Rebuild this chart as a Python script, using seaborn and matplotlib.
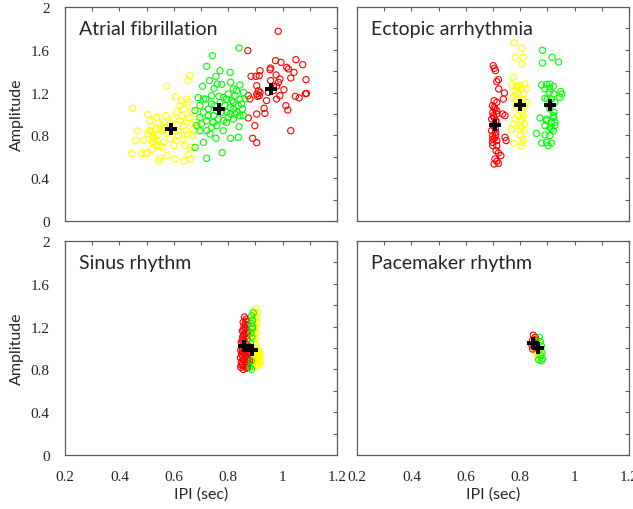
import matplotlib
matplotlib.use("Agg")
import matplotlib.pyplot as plt
import numpy as np
import pandas as pd
import seaborn as sns

sns.set_style("white")
plt.rcParams['font.family'] = ['Lato', 'DejaVu Sans']

# ---------------- data ----------------
panel_titles = ["Atrial fibrillation", "Ectopic arrhythmia", "Sinus rhythm", "Pacemaker rhythm"]
class_order = ["yellow", "red", "green"]
class_colors = {"yellow": "#ffff00", "red": "#ff0000", "green": "#00ff00"}

x_ticks = [0.2, 0.3, 0.4, 0.5, 0.6, 0.7, 0.8, 0.9, 1.0, 1.1, 1.2]
x_tick_labels = ["0.2", "", "0.4", "", "0.6", "", "0.8", "", "1", "", "1.2"]
y_ticks = [0, 0.2, 0.4, 0.6, 0.8, 1.0, 1.2, 1.4, 1.6, 1.8, 2.0]
y_tick_labels = ["0", "", "0.4", "", "0.8", "", "1.2", "", "1.6", "", "2"]

# Atrial fibrillation
af_yellow_x = [0.449, 0.504, 0.466, 0.445, 0.481, 0.498, 0.503, 0.460, 0.490, 0.513, 0.510, 0.519, 0.520, 0.525,
               0.537, 0.546, 0.552, 0.539, 0.549, 0.544, 0.548, 0.576, 0.574, 0.607, 0.653, 0.660, 0.647, 0.623,
               0.610, 0.598, 0.571, 0.586, 0.601, 0.610, 0.562, 0.574, 0.604, 0.637, 0.662, 0.653, 0.666, 0.652,
               0.672, 0.678, 0.647, 0.635, 0.666, 0.653, 0.629, 0.613, 0.569, 0.562, 0.525, 0.506, 0.517, 0.535,
               0.562, 0.617, 0.633, 0.641, 0.537, 0.522, 0.637, 0.660, 0.623, 0.645, 0.669, 0.586, 0.598, 0.629,
               0.580, 0.615, 0.655, 0.690, 0.530, 0.560]
af_yellow_y = [1.053, 0.997, 0.841, 0.632, 0.632, 0.626, 0.640, 0.751, 0.757, 0.938, 0.844, 0.829, 0.741, 0.729,
               0.969, 0.916, 0.866, 0.798, 0.704, 0.561, 0.586, 0.611, 1.259, 1.162, 1.312, 1.358, 1.140, 1.078,
               1.016, 0.953, 0.985, 0.766, 0.704, 0.751, 0.735, 0.813, 0.579, 0.561, 0.579, 0.620, 0.688, 0.813,
               0.860, 0.922, 0.922, 0.891, 1.031, 1.109, 0.985, 0.844, 0.875, 0.844, 0.798, 0.813, 0.885, 0.860,
               0.922, 0.798, 0.766, 0.704, 0.704, 0.673, 1.047, 0.969, 0.938, 0.844, 0.798, 0.907, 0.844, 1.125,
               0.830, 0.900, 0.960, 0.880, 0.770, 0.690]
af_green_x = [0.840, 0.742, 0.721, 0.770, 0.807, 0.755, 0.731, 0.706, 0.748, 0.760, 0.776, 0.809, 0.843, 0.819,
              0.831, 0.856, 0.862, 0.843, 0.825, 0.800, 0.782, 0.766, 0.739, 0.717, 0.690, 0.678, 0.696, 0.709,
              0.727, 0.745, 0.758, 0.788, 0.807, 0.819, 0.837, 0.853, 0.856, 0.843, 0.825, 0.800, 0.782, 0.764,
              0.745, 0.721, 0.702, 0.684, 0.696, 0.721, 0.733, 0.709, 0.678, 0.755, 0.782, 0.809, 0.837, 0.840,
              0.778, 0.721, 0.696, 0.727, 0.794, 0.813, 0.770, 0.739, 0.794, 0.819, 0.831, 0.807, 0.776, 0.751,
              0.709, 0.758, 0.739, 0.794, 0.819, 0.849]
af_green_y = [1.617, 1.545, 1.445, 1.405, 1.389, 1.352, 1.312, 1.259, 1.240, 1.280, 1.277, 1.296, 1.271, 1.234,
              1.218, 1.202, 1.140, 1.140, 1.171, 1.187, 1.156, 1.165, 1.171, 1.140, 1.153, 1.031, 1.078, 1.016,
              1.047, 0.985, 1.031, 1.078, 1.062, 1.047, 1.078, 1.047, 0.985, 0.985, 1.000, 0.969, 0.938, 0.953,
              0.922, 0.938, 0.907, 0.891, 0.844, 0.844, 0.813, 0.735, 0.688, 0.773, 0.844, 0.773, 0.782, 0.882,
              0.639, 0.586, 0.969, 0.985, 1.016, 1.125, 1.109, 1.094, 1.140, 1.109, 1.016, 1.000, 1.016, 1.078,
              1.140, 0.891, 0.875, 0.922, 0.953, 1.094]
af_red_x = [0.984, 0.872, 0.974, 0.994, 1.049, 1.074, 1.015, 1.042, 1.021, 0.917, 0.884, 0.902, 0.914, 0.956,
            0.954, 0.976, 0.990, 1.030, 1.086, 0.956, 0.985, 0.905, 0.911, 0.917, 0.905, 0.907, 0.948, 0.966,
            0.990, 1.005, 1.047, 1.061, 1.084, 1.088, 0.978, 0.966, 0.874, 0.880, 0.941, 0.932, 0.905, 0.935,
            0.874, 1.012, 1.019, 0.898, 1.030, 0.890, 0.905, 0.914, 0.978]
af_red_y = [1.773, 1.592, 1.499, 1.483, 1.508, 1.461, 1.436, 1.389, 1.421, 1.405, 1.352, 1.352, 1.358, 1.430,
            1.414, 1.365, 1.327, 1.337, 1.321, 1.312, 1.296, 1.265, 1.218, 1.202, 1.187, 1.165, 1.202, 1.218,
            1.171, 1.227, 1.165, 1.150, 1.190, 1.193, 1.259, 1.259, 1.171, 1.140, 1.125, 1.053, 1.000, 1.006,
            0.963, 1.078, 1.037, 0.891, 0.844, 0.773, 0.732, 1.171, 1.140]
af_center_x = [0.590, 0.765, 0.958]
af_center_y = [0.860, 1.047, 1.234]

# Ectopic arrhythmia
ea_red_x = [0.701, 0.705, 0.709, 0.720, 0.714, 0.721, 0.742, 0.738, 0.704, 0.714, 0.698, 0.707, 0.699, 0.714,
            0.704, 0.695, 0.710, 0.736, 0.744, 0.701, 0.695, 0.710, 0.699, 0.705, 0.714, 0.698, 0.744, 0.748,
            0.714, 0.711, 0.720, 0.729, 0.707, 0.714, 0.720, 0.704, 0.699, 0.709, 0.701, 0.714, 0.699, 0.710,
            0.704, 0.711]
ea_red_y = [1.452, 1.427, 1.405, 1.321, 1.302, 1.234, 1.196, 1.140, 1.125, 1.109, 1.078, 1.047, 1.016, 1.000,
            0.969, 0.953, 0.938, 1.000, 0.985, 0.891, 0.844, 0.829, 0.798, 0.773, 0.751, 0.735, 0.782, 0.751,
            0.704, 0.657, 0.636, 0.611, 0.579, 0.558, 0.539, 0.533, 0.704, 0.860, 0.985, 1.031, 0.766, 0.798,
            1.062, 0.922]
ea_yellow_x = [0.778, 0.805, 0.782, 0.811, 0.805, 0.774, 0.768, 0.787, 0.799, 0.817, 0.824, 0.781, 0.793, 0.811,
               0.774, 0.801, 0.824, 0.787, 0.817, 0.805, 0.811, 0.793, 0.781, 0.805, 0.817, 0.774, 0.768, 0.799,
               0.801, 0.811, 0.809, 0.777, 0.805, 0.787, 0.811, 0.805, 0.793, 0.811, 0.801, 0.814]
ea_yellow_y = [1.664, 1.614, 1.530, 1.530, 1.467, 1.343, 1.271, 1.259, 1.271, 1.280, 1.240, 1.218, 1.202, 1.187,
               1.156, 1.140, 1.109, 1.078, 1.072, 1.031, 1.000, 0.985, 0.953, 0.938, 0.907, 0.907, 0.854, 0.860,
               0.798, 0.766, 0.735, 0.726, 0.704, 1.140, 1.140, 1.234, 1.249, 0.969, 0.891, 0.844]
ea_green_x = [0.882, 0.917, 0.941, 0.882, 0.879, 0.897, 0.909, 0.922, 0.891, 0.907, 0.924, 0.949, 0.953, 0.946,
              0.891, 0.899, 0.915, 0.928, 0.909, 0.924, 0.922, 0.873, 0.897, 0.915, 0.891, 0.909, 0.928, 0.922,
              0.860, 0.891, 0.909, 0.879, 0.897, 0.915, 0.903, 0.897, 0.928, 0.909, 0.924, 0.915]
ea_green_y = [1.595, 1.530, 1.486, 1.477, 1.271, 1.277, 1.280, 1.259, 1.234, 1.202, 1.187, 1.209, 1.187, 1.156,
              1.147, 1.140, 1.140, 1.109, 1.047, 1.016, 0.985, 0.963, 0.938, 0.922, 0.891, 0.875, 0.922, 0.844,
              0.819, 0.804, 0.798, 0.729, 0.735, 0.729, 0.704, 0.953, 0.891, 1.240, 0.969, 0.860]
ea_center_x = [0.707, 0.800, 0.910]
ea_center_y = [0.897, 1.080, 1.080]

# Sinus rhythm
sr_red_x = [0.860, 0.866, 0.855, 0.870, 0.858, 0.864, 0.852, 0.872, 0.860, 0.866, 0.853, 0.870, 0.858, 0.848,
            0.864, 0.874, 0.852, 0.860, 0.846, 0.868, 0.856, 0.876, 0.849, 0.862, 0.845, 0.870, 0.855, 0.878,
            0.848, 0.864, 0.852, 0.872, 0.858, 0.846, 0.866, 0.855, 0.862, 0.857, 0.862, 0.850, 0.868, 0.873,
            0.856, 0.866, 0.851, 0.861, 0.869, 0.854, 0.863, 0.848, 0.871, 0.857, 0.865, 0.853]
sr_red_y = [1.29, 1.27, 1.24, 1.22, 1.20, 1.18, 1.16, 1.15, 1.13, 1.11, 1.10, 1.08, 1.06, 1.05,
            1.04, 1.02, 1.01, 1.00, 0.98, 0.97, 0.96, 0.95, 0.94, 0.93, 0.91, 0.90, 0.89, 0.88,
            0.87, 0.86, 0.85, 0.84, 0.83, 0.82, 0.81, 0.80, 0.95, 1.08, 1.22, 0.96, 0.92, 0.86,
            1.12, 1.14, 1.07, 1.03, 0.99, 0.92, 0.90, 0.84, 0.82, 1.17, 1.25, 0.99]
sr_yellow_x = [0.902, 0.896, 0.908, 0.893, 0.904, 0.898, 0.906, 0.894, 0.902, 0.897, 0.905, 0.893, 0.900, 0.896,
               0.903, 0.890, 0.908, 0.898, 0.912, 0.885, 0.904, 0.915, 0.893, 0.908, 0.918, 0.885, 0.898, 0.912,
               0.890, 0.905, 0.918, 0.882, 0.896, 0.910, 0.888, 0.903, 0.915, 0.880, 0.895,
               0.900, 0.910, 0.892, 0.906, 0.914, 0.888, 0.902]
sr_yellow_y = [1.37, 1.35, 1.33, 1.31, 1.29, 1.27, 1.24, 1.22, 1.20, 1.17, 1.14, 1.12, 1.09, 1.06,
               1.03, 1.01, 0.99, 0.97, 0.96, 0.95, 0.94, 0.93, 0.92, 0.91, 0.90, 0.90, 0.89, 0.88,
               0.87, 0.86, 0.86, 0.85, 0.84, 0.84, 0.83, 0.83, 0.95, 0.97, 1.00,
               0.93, 0.92, 0.86, 0.88, 0.87, 0.91, 0.96]
sr_green_x = [0.892, 0.886, 0.890, 0.884, 0.888, 0.883, 0.887, 0.882, 0.885, 0.880, 0.886, 0.890]
sr_green_y = [1.33, 1.30, 1.26, 1.23, 1.18, 1.14, 1.10, 1.04, 0.88, 0.82, 0.80, 1.20]
sr_center_x = [0.859, 0.886]
sr_center_y = [1.015, 0.985]

# Pacemaker rhythm
pm_red_x = [0.848, 0.855, 0.845, 0.852, 0.843, 0.850, 0.846, 0.856]
pm_red_y = [1.12, 1.10, 1.07, 1.05, 1.03, 1.01, 0.99, 1.08]
pm_yellow_x = [0.858, 0.865, 0.856, 0.868, 0.860, 0.870, 0.862, 0.872, 0.865, 0.858, 0.866, 0.862, 0.868]
pm_yellow_y = [1.09, 1.06, 1.03, 1.01, 0.99, 0.97, 0.95, 0.93, 0.91, 0.97, 1.04, 1.00, 0.95]
pm_green_x = [0.870, 0.874, 0.878, 0.872, 0.880, 0.876, 0.882, 0.878, 0.868]
pm_green_y = [1.10, 1.06, 1.02, 0.99, 0.96, 0.93, 0.90, 0.88, 0.89]
pm_center_x = [0.848, 0.864]
pm_center_y = [1.047, 1.000]

panels = [
    ({"yellow": (af_yellow_x, af_yellow_y), "red": (af_red_x, af_red_y), "green": (af_green_x, af_green_y)},
     (af_center_x, af_center_y)),
    ({"yellow": (ea_yellow_x, ea_yellow_y), "red": (ea_red_x, ea_red_y), "green": (ea_green_x, ea_green_y)},
     (ea_center_x, ea_center_y)),
    ({"yellow": (sr_yellow_x, sr_yellow_y), "red": (sr_red_x, sr_red_y), "green": (sr_green_x, sr_green_y)},
     (sr_center_x, sr_center_y)),
    ({"yellow": (pm_yellow_x, pm_yellow_y), "red": (pm_red_x, pm_red_y), "green": (pm_green_x, pm_green_y)},
     (pm_center_x, pm_center_y)),
]

# ---------------- figure ----------------
fig = plt.figure(figsize=(6.33, 5.10), dpi=100)
W, H = 633.0, 510.0
boxes = [(65, 8), (357, 8), (65, 242), (357, 242)]
aw, ah = 272.0, 214.0
spine_col = "#5a5a5a"
tick_font = ["Liberation Serif", "DejaVu Serif"]

for i, ((groups, centers), title) in enumerate(zip(panels, panel_titles)):
    lx, ty = boxes[i]
    ax = fig.add_axes([lx / W, 1 - (ty + ah) / H, aw / W, ah / H])
    frames = []
    for cls in class_order:
        gx, gy = groups[cls]
        frames.append(pd.DataFrame({"x": gx, "y": gy, "cls": cls}))
    df = pd.concat(frames, ignore_index=True)
    sns.scatterplot(data=df, x="x", y="y", hue="cls", palette=class_colors, hue_order=class_order,
                    s=20, marker="o", legend=False, ax=ax, linewidth=0.8)
    coll = ax.collections[-1]
    fc = coll.get_facecolors()
    coll.set_edgecolors(fc)
    coll.set_facecolors("none")
    coll.set_linewidths(0.8)
    cdf = pd.DataFrame({"x": centers[0], "y": centers[1]})
    sns.scatterplot(data=cdf, x="x", y="y", marker="P", s=65, color="black", linewidth=0,
                    legend=False, ax=ax, zorder=5)

    ax.set_xlim(0.2, 1.2)
    ax.set_ylim(0, 2)
    ax.set_xticks(x_ticks)
    ax.set_yticks(y_ticks)
    ax.tick_params(direction="in", length=3, width=0.8, color=spine_col, top=True, right=True,
                   labelsize=11, pad=11)
    for sp in ax.spines.values():
        sp.set_color(spine_col)
        sp.set_linewidth(0.9)
    if i % 2 == 0:
        ax.set_yticklabels(y_tick_labels, family=tick_font, fontsize=11)
        ax.set_ylabel("Amplitude", fontsize=11.5, va="center")
        ax.yaxis.set_label_coords(-0.175, 0.5)
    else:
        ax.set_yticklabels([])
        ax.set_ylabel("")
    if i >= 2:
        ax.set_xticklabels(x_tick_labels, family=tick_font, fontsize=11)
        ax.set_xlabel("IPI (sec)", fontsize=11.5, va="center")
        ax.xaxis.set_label_coords(0.5, -0.178)
    else:
        ax.set_xticklabels([])
        ax.set_xlabel("")
    ax.text(0.05, 0.875, title, transform=ax.transAxes, fontsize=14, ha="left", va="baseline")

fig.savefig("out.png", dpi=100)
